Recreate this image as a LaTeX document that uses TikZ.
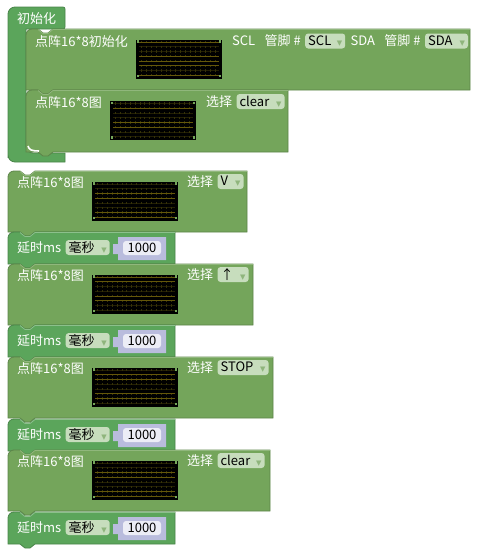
\documentclass[tikz,border=0pt]{standalone}
\usepackage{fontspec}
\setmainfont{Noto Sans CJK SC}
\newfontfamily\symfont{DejaVu Sans}
\usetikzlibrary{positioning}
\definecolor{matfill}{HTML}{74A55B}
\definecolor{matedge}{HTML}{5D8449}
\definecolor{matlight}{HTML}{90B77C}
\definecolor{ctlfill}{HTML}{5BA55B}
\definecolor{ctledge}{HTML}{498449}
\definecolor{ctllight}{HTML}{8CC08C}
\definecolor{chipfill}{HTML}{C7DDBD}
\definecolor{chiptri}{HTML}{8FB57C}
\definecolor{numfill}{HTML}{B9BCDD}
\definecolor{numchip}{HTML}{ECEDF6}
\definecolor{ledon}{HTML}{64570A}
\definecolor{ledoff}{HTML}{231F04}
\definecolor{ledtick}{HTML}{353208}
\tikzset{
    lbl/.style={anchor=west, inner sep=0pt, text=white, font=\fontsize{13}{13}\selectfont},
    chip/.style={rectangle, rounded corners=3pt, fill=chipfill, inner xsep=3pt, inner ysep=0pt, minimum height=15pt, text=black, font=\fontsize{13}{13}\selectfont},
    numchip/.style={chip, fill=numchip, minimum height=14pt, inner xsep=0pt},
    board/.style={rectangle, fill=black, inner sep=0pt, minimum width=86pt, minimum height=39pt, anchor=north west},
    matblock/.style={fill=matfill, draw=matedge, line width=.8pt},
    ctlblock/.style={fill=ctlfill, draw=ctledge, line width=.8pt}
}
% block with a notch on top and a tab below: style, x1, y1, x2, y2, top edge colour
\newcommand{\stackblock}[6]{
    \draw[#1] (#2,#5) [rounded corners=6pt] -- (#2,#3) [sharp corners] -- (#2+12,#3) -- (#2+17,#3+4)
      -- (#2+22,#3+4) -- (#2+27,#3) -- (#4,#3) -- (#4,#5) -- (#2+27,#5) -- (#2+22,#5+4)
      -- (#2+17,#5+4) -- (#2+12,#5) -- (#2,#5) -- cycle;
    \draw[#6, line width=.8pt] (#2+27,#3+.5) -- (#4-.5,#3+.5);
    \draw[#6, line width=.8pt] (#2+12,#3+.5) -- (#2+17,#3+4.5) -- (#2+22,#3+4.5) -- (#2+27,#3+.5);
}
% dropdown text followed by its little triangle
\newcommand{\choice}[2]{\makebox[#1pt][l]{#2\hfill{\symfont\fontsize{7}{7}\selectfont\textcolor{chiptri}{▼}}}}
% led matrix: name, x, y, lit rows
\newcommand{\ledmatrix}[4]{
    \node[board] (#1) at (#2,#3) {};
    \begin{scope}[shift={(#1.north west)}]
      \foreach \r in {0,...,7}{
        \fill[ledoff] (3,2+\r*4.75) rectangle ++(80,1);
        \foreach \c in {0,...,15}
          \fill[ledtick] (5+\c*4.9,1.4+\r*4.75) rectangle ++(.9,2.2);
      }
      \foreach \r in {#4}
        \fill[ledon] (3,2+\r*4.75) rectangle ++(80,1.2);
      \foreach \px/\py in {.6/.8,82.6/.8,.6/35.2,82.6/35.2}
        \fill[matfill] (\px,\py) rectangle ++(2.4,2.4);
    \end{scope}
}
% delay block: name, y
\newcommand{\delayblock}[2]{
    \stackblock{ctlblock}{8}{#2}{175}{#2+32}{ctllight}
    \node[lbl] (#1lbl) at (17,#2+15.5) {延时ms};
    \node[chip, right=4pt of #1lbl] (#1chip) {\choice{38}{毫秒}};
    \draw[fill=numfill, draw=none] (118,#2+5) -- (166,#2+5) -- (166,#2+28) -- (118,#2+28) -- (118,#2+22)
      -- (113,#2+22) -- (113,#2+12) -- (118,#2+12) -- cycle;
    \node[numchip, minimum width=38pt] (#1num) at (142,#2+16) {1000};
}
% matrix block: name, y, x2, choice text, choice width, lit rows
\newcommand{\figblock}[6]{
    \stackblock{matblock}{8}{#2}{#3}{#2+61}{matlight}
    \node[lbl] (#1lbl) at (17,#2+11.5) {点阵16*8图};
    \ledmatrix{#1board}{92}{#2+10.5}{#6}
    \node[lbl] (#1sel) at (187,#2+10.5) {选择};
    \node[chip, right=4pt of #1sel] (#1chip) {\choice{#5}{#4}};
}
\begin{document}
\begin{tikzpicture}[x=1pt, y=-1pt]
    \useasboundingbox (0,0) rectangle (477,549);
    % init block
    \draw[ctlblock] (8,162) [rounded corners=7pt] -- (8,7) [rounded corners=2pt] -- (65,7) -- (65,29) [sharp corners]
      -- (26,29) [rounded corners=7pt] -- (26,153) [sharp corners] -- (65,153) -- (65,162) [rounded corners=7pt] -- (8,162) -- cycle;
    \node[lbl] (initlbl) at (17,18.5) {初始化};

    \stackblock{matblock}{26}{29}{470}{90}{matlight}
    \node[lbl] (setuplbl) at (35,41.5) {点阵16*8初始化};
    \ledmatrix{setupboard}{136}{39.5}{0,3,4,5,7}
    \node[lbl] (scllbl) at (232,41) {SCL};
    \node[lbl, right=9pt of scllbl] (sclpin) {管脚 \#};
    \node[chip, right=4pt of sclpin] (sclchip) {\choice{34}{SCL}};
    \node[lbl, right=5pt of sclchip] (sdalbl) {SDA};
    \node[lbl, right=9pt of sdalbl] (sdapin) {管脚 \#};
    \node[chip, right=4pt of sdapin] (sdachip) {\choice{37}{SDA}};

    \stackblock{matblock}{26}{90}{288}{152}{matlight}
    \node[lbl] (firstlbl) at (35,102.5) {点阵16*8图};
    \ledmatrix{firstboard}{110}{101}{1,4,5}
    \node[lbl] (firstsel) at (206,101.5) {选择};
    \node[chip, right=4pt of firstsel] (firstchip) {\choice{42}{clear}};
    \draw[white, line width=1.6pt] (28,146) .. controls (29,150) and (32,151) .. (39,151);

    % main stack
    \figblock{va}{171}{247}{V}{20}{2,3,6,7}
    \delayblock{da}{232}
    \figblock{vb}{264}{253}{↑}{25}{0,1,4,5}
    \delayblock{db}{325}
    \figblock{vc}{357}{273}{STOP}{45}{1,2,5,6}
    \delayblock{dc}{419}
    \figblock{vd}{450}{270}{clear}{41}{2,3,6,7}
    \delayblock{dd}{512}
\end{tikzpicture}
\end{document}
